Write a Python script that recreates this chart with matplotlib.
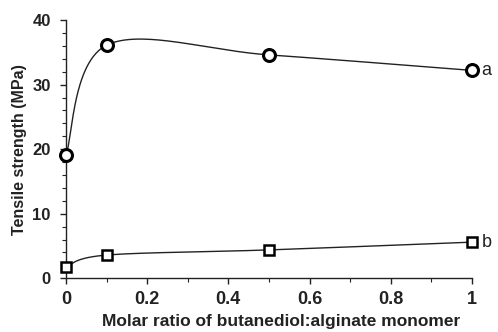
import numpy as np
import matplotlib
matplotlib.use('Agg')
import matplotlib.pyplot as plt
from matplotlib.ticker import MultipleLocator

plt.rcParams['font.family'] = ['Liberation Sans', 'DejaVu Sans']

# data
ratio = [0, 0.1, 0.5, 1.0]
strength_a = [19.1, 36.1, 34.6, 32.2]
strength_b = [1.8, 3.6, 4.4, 5.6]
series_labels = ['a', 'b']


def smooth_line(x, y, n=60):
    """Excel-like smoothed line: cubic Bezier through points"""
    pts = np.column_stack([x, y]).astype(float)
    out = []
    for i in range(len(pts) - 1):
        p0 = pts[i]
        p3 = pts[i + 1]
        prev = pts[i - 1] if i > 0 else pts[i]
        nxt = pts[i + 2] if i + 2 < len(pts) else pts[i + 1]
        c1 = p0 + (p3 - prev) / 6.0
        c2 = p3 - (nxt - p0) / 6.0
        t = np.linspace(0, 1, n)[:, None]
        seg = ((1 - t) ** 3) * p0 + 3 * ((1 - t) ** 2) * t * c1 + 3 * (1 - t) * t ** 2 * c2 + t ** 3 * p3
        out.append(seg if i == 0 else seg[1:])
    out = np.vstack(out)
    return out[:, 0], out[:, 1]


fig = plt.figure(figsize=(4.98, 3.32), dpi=100)
ax = fig.add_axes([0.1325, 0.1617, 0.815, 0.778])

for ys, mk, ms, mew, lab in [(strength_a, 'o', 8.6, 2.2, series_labels[0]),
                             (strength_b, 's', 7.6, 1.8, series_labels[1])]:
    sx, sy = smooth_line(ratio, ys)
    ax.plot(sx, sy, color='#222222', lw=1.0, zorder=2)
    ax.plot(ratio, ys, linestyle='none', marker=mk, ms=ms, mfc='white',
            mec='black', mew=mew, zorder=3, clip_on=False)
    ax.annotate(lab, (ratio[-1], ys[-1]), xytext=(7, 0), textcoords='offset points',
                va='center', ha='left', fontsize=13, color='#222222')

ax.set_xlim(0, 1)
ax.set_ylim(0, 40)
ax.xaxis.set_minor_locator(MultipleLocator(0.1))
ax.yaxis.set_major_locator(MultipleLocator(10))
ax.yaxis.set_minor_locator(MultipleLocator(2))
ax.set_xticks([0, 0.2, 0.4, 0.6, 0.8, 1.0])
ax.set_xticklabels(['0', '0.2', '0.4', '0.6', '0.8', '1'])

for s in ['top', 'right']:
    ax.spines[s].set_visible(False)
for s in ['left', 'bottom']:
    ax.spines[s].set_linewidth(1.0)
    ax.spines[s].set_color('#222222')

ax.tick_params(which='major', direction='out', length=4, width=1.0, colors='#222222')
ax.tick_params(which='minor', direction='out', length=3, width=0.8, colors='#222222')
ax.tick_params(axis='x', which='major', labelsize=13, pad=5)
ax.tick_params(axis='y', which='major', labelsize=12, pad=7)
for lbl in ax.get_xticklabels() + ax.get_yticklabels():
    lbl.set_fontweight('bold')

ax.set_xlabel('Molar ratio of butanediol:alginate monomer', fontsize=12.5,
              fontweight='bold', color='#222222')
ax.xaxis.set_label_coords(0.53, -0.14)
ax.set_ylabel('Tensile strength (MPa)', fontsize=11.5, fontweight='bold',
              color='#222222', labelpad=4)

fig.savefig('out.png', dpi=100)
